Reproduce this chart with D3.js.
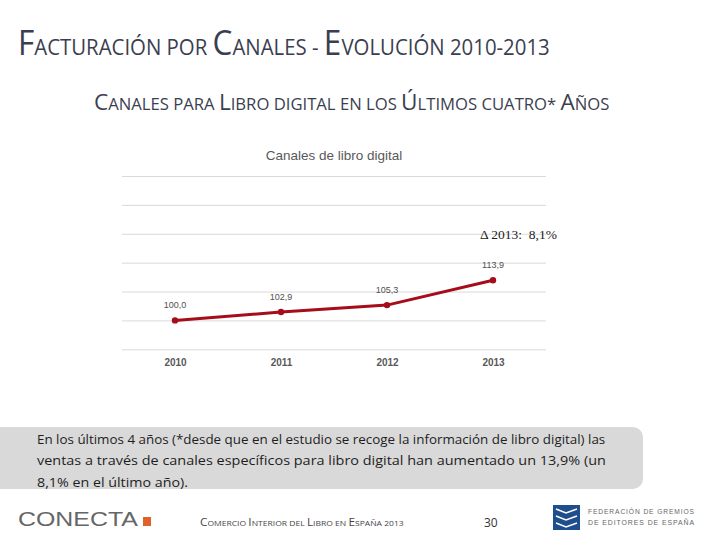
<!DOCTYPE html>
<html><head><meta charset="utf-8">
<script src="https://cdn.jsdelivr.net/npm/d3@7"></script>
<style>body{margin:0;background:#fff}svg{display:block}</style>
</head><body>
<svg id="c" width="720" height="540"></svg>
<script>
const years = ["2010","2011","2012","2013"];
const values = [100.0, 102.9, 105.3, 113.9];
const valueLabels = ["100,0","102,9","105,3","113,9"];
const yTicks = [90,100,110,120,130,140,150];
const chartTitle = "Canales de libro digital";
const deltaLabel = "Δ 2013:  8,1%";

const svg = d3.select("#c");
const ink = "#3b3e50";

function smallCaps(sel, str, big, small){
  const parts = str.match(/(\p{Lu}+|[^\p{Lu}]+)/gu);
  parts.forEach(p=>{
    const isUp = /^\p{Lu}+$/u.test(p);
    sel.append("tspan").attr("font-size", isUp?big:small).text(isUp?p:p.toUpperCase());
  });
}
// horizontally scale a left-anchored text to a target width
function fit(sel, x0, w){
  const n = sel.node().getComputedTextLength();
  const k = w / n;
  sel.attr("x", 0).attr("transform", `translate(${x0},0) scale(${k},1)`);
  sel.selectAll("tspan").attr("x", null);
}

const t1 = svg.append("text").attr("y",55).attr("fill",ink)
  .attr("font-family","'Open Sans', sans-serif");
smallCaps(t1,"Facturación por Canales - Evolución 2010-2013",34,22);
fit(t1,18,532);

const t2 = svg.append("text").attr("y",110).attr("fill",ink)
  .attr("font-family","'Open Sans', sans-serif");
smallCaps(t2,"Canales para Libro digital en los Últimos cuatro* Años",21,15.5);
fit(t2,94,516);

// chart
const x = d3.scalePoint().domain(years).range([122,546]).padding(0.5);
const y = d3.scaleLinear().domain([90,150]).range([349.3,176]);

svg.append("text").attr("x",334).attr("y",160).attr("text-anchor","middle")
  .attr("font-family","'Liberation Sans', Arial, sans-serif").attr("font-size",13.5).attr("fill","#595959")
  .text(chartTitle);

const grid = svg.append("g").attr("transform","translate(122,0)")
  .call(d3.axisLeft(y).tickValues(yTicks).tickSize(-(546-122)).tickFormat(""));
grid.select(".domain").remove();
grid.selectAll(".tick line").attr("stroke","#d9d9d9").attr("stroke-width",1);

const xa = svg.append("g").attr("transform","translate(0,349.3)")
  .call(d3.axisBottom(x).tickSize(0).tickPadding(10));
xa.select(".domain").remove();
xa.selectAll("text").attr("font-family","'Liberation Sans', Arial, sans-serif").attr("font-size",10)
  .attr("font-weight","bold").attr("fill","#595959");

const data = years.map((yr,i)=>({yr, v:values[i], l:valueLabels[i]}));
svg.append("path").datum(data)
  .attr("d", d3.line().x(d=>x(d.yr)).y(d=>y(d.v)))
  .attr("fill","none").attr("stroke","#a50d1a").attr("stroke-width",3).attr("stroke-linejoin","round");
svg.selectAll("circle.pt").data(data).enter().append("circle")
  .attr("cx",d=>x(d.yr)).attr("cy",d=>y(d.v)).attr("r",3.2).attr("fill","#a50d1a");
svg.selectAll("text.lbl").data(data).enter().append("text")
  .attr("x",d=>x(d.yr)).attr("y",d=>y(d.v)-12).attr("text-anchor","middle")
  .attr("font-family","'Liberation Sans', Arial, sans-serif").attr("font-size",9).attr("fill","#505050")
  .text(d=>d.l);

svg.append("text").attr("x",480).attr("y",239)
  .attr("font-family","'Liberation Serif', 'Times New Roman', serif").attr("font-size",13.5).attr("fill","#222")
  .style("white-space","pre").text(deltaLabel);

// comment box
svg.append("rect").attr("x",-10).attr("y",427).attr("width",653).attr("height",62).attr("rx",10).attr("fill","#d9d9d9");
const lines = [
  "En los últimos 4 años (*desde que en el estudio se recoge la información de libro digital) las",
  "ventas a través de canales específicos para libro digital han aumentado un 13,9% (un",
  "8,1% en el último año)."
];
const lw = [569,569,151];
lines.forEach((s,i)=>{
  const t = svg.append("text").attr("y",444+i*21.5)
    .attr("font-family","'Open Sans', sans-serif").attr("font-size",12.5).attr("fill","#1e1e1e").text(s);
  fit(t,37,lw[i]);
});

// footer
const cn = svg.append("text").attr("y",526).attr("font-family","'Liberation Sans', Arial, sans-serif")
  .attr("font-size",21).attr("fill","#666").text("CONECTA");
fit(cn,18,120);
svg.append("rect").attr("x",143).attr("y",517).attr("width",8).attr("height",9).attr("fill","#e0622a");

const ft = svg.append("text").attr("y",526).attr("fill","#444")
  .attr("font-family","'Open Sans', sans-serif");
smallCaps(ft,"Comercio Interior del Libro en España 2013",11,8);
fit(ft,200,204);

svg.append("text").attr("x",484).attr("y",527).attr("font-family","'Open Sans', sans-serif").attr("font-size",12).attr("fill","#333").text("30");

svg.append("rect").attr("x",553).attr("y",505).attr("width",27).attr("height",25).attr("fill","#1f4e8c");
["M556,509 L566,513 L577,509","M556,516 L566,520 L577,516","M556,523 L566,527 L577,523"].forEach(p=>{
  svg.append("path").attr("d",p).attr("fill","none").attr("stroke","#fff").attr("stroke-width",1.5);
});
const f1 = svg.append("text").attr("y",514).attr("font-family","'Liberation Sans', Arial, sans-serif").attr("font-size",7.5)
  .attr("fill","#666").attr("letter-spacing",1).text("FEDERACIÓN DE GREMIOS");
fit(f1,588,107);
const f2 = svg.append("text").attr("y",525).attr("font-family","'Liberation Sans', Arial, sans-serif").attr("font-size",7.5)
  .attr("fill","#666").attr("letter-spacing",1).text("DE EDITORES DE ESPAÑA");
fit(f2,588,107);
</script>
</body></html>
